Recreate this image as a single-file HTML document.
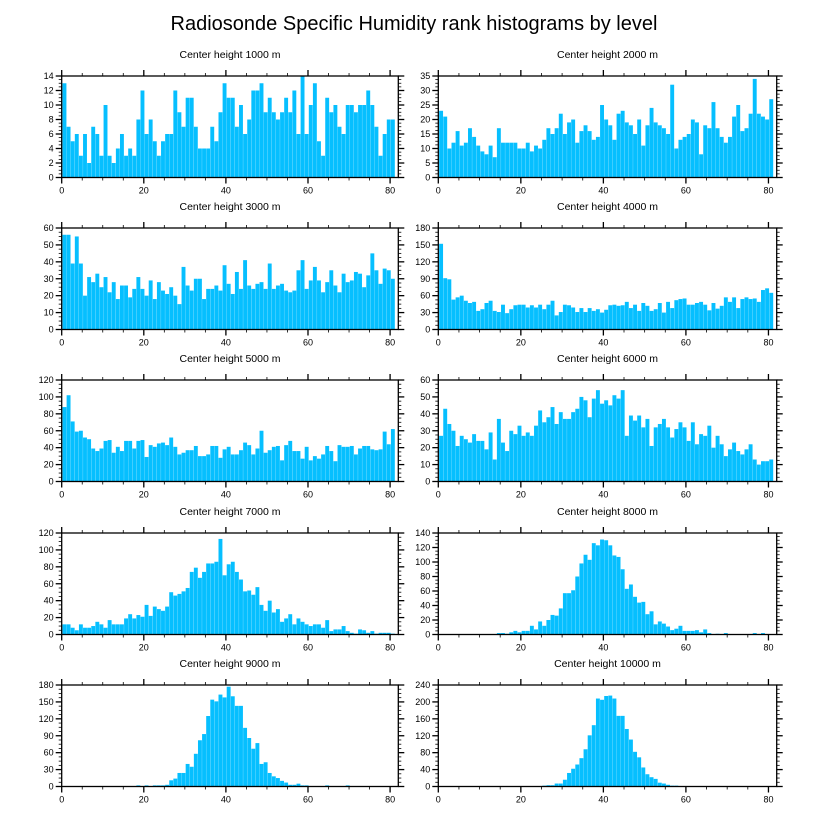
<!DOCTYPE html>
<html><head><meta charset="utf-8"><style>
html,body{margin:0;padding:0;background:#fff;}
svg{display:block;font-family:"Liberation Sans",sans-serif;}
</style></head><body>
<svg id="chart" width="816" height="824" viewBox="0 0 816 824" xmlns="http://www.w3.org/2000/svg">
<text x="414" y="30" text-anchor="middle" font-size="20">Radiosonde Specific Humidity rank histograms by level</text>
</svg>
<script>
const titles = ["Center height 1000 m","Center height 2000 m","Center height 3000 m","Center height 4000 m","Center height 5000 m","Center height 6000 m","Center height 7000 m","Center height 8000 m","Center height 9000 m","Center height 10000 m"];
const yMax = [14,35,60,180,120,60,120,140,180,240];
const yStep = [2,5,10,30,20,10,20,20,30,40];
const xTicks = [0,20,40,60,80];
const h1000 = [13,7,5,6,3,6,2,7,6,3,10,3,2,4,6,3,4,3,8,12,6,8,5,3,5,6,6,12,9,7,11,11,7,4,4,4,7,5,9,13,11,11,7,10,6,8,12,12,13,9,11,9,8,9,11,9,12,6,14,6,10,13,5,3,11,9,10,7,6,10,10,9,10,10,12,10,7,3,6,8,8];
const h2000 = [23,21,10,12,16,11,12,17,14,11,9,8,11,7,17,12,12,12,12,10,10,12,9,11,10,13,17,15,17,22,15,19,20,12,16,18,16,13,14,25,20,18,13,22,23,19,18,15,20,11,18,24,19,18,17,15,32,10,13,14,15,20,19,8,18,17,26,17,14,12,14,21,25,16,17,22,34,22,21,20,27];
const h3000 = [56,56,39,55,39,20,31,28,33,25,31,22,28,18,26,26,19,24,31,24,20,29,18,28,23,21,25,20,15,37,26,23,30,30,18,24,24,26,23,38,27,21,34,24,41,26,24,27,28,24,39,24,26,27,23,22,23,35,41,24,29,37,29,22,28,35,26,22,33,28,29,34,33,25,32,45,35,27,36,35,30];
const h4000 = [152,91,89,53,57,60,51,47,49,33,36,47,51,33,31,44,29,36,43,44,44,39,43,39,44,36,44,51,25,31,44,43,39,31,38,31,38,33,36,30,35,43,44,42,43,49,38,44,33,47,42,33,36,47,30,49,38,52,54,55,44,44,47,49,44,34,47,37,42,57,49,57,38,54,57,54,55,49,70,73,65];
const h5000 = [88,102,71,59,60,52,50,39,36,39,48,49,34,41,36,48,48,39,48,49,29,43,41,45,46,43,52,41,32,34,37,37,42,30,30,32,42,42,28,38,41,32,32,37,46,43,32,39,60,34,37,41,42,25,43,48,36,36,27,41,25,30,27,32,42,36,24,43,41,41,42,32,39,42,42,38,37,38,59,44,62];
const h6000 = [27,43,34,30,21,27,25,23,28,24,24,19,29,13,37,23,18,30,28,33,27,29,27,33,42,35,38,44,34,41,37,37,41,43,50,48,38,49,54,46,48,45,51,49,54,27,39,36,39,32,37,21,32,34,37,32,26,31,35,32,24,35,22,28,27,33,20,27,22,15,19,23,18,16,19,22,13,10,12,12,13];
const h7000 = [12,12,8,5,12,8,8,10,15,12,8,17,12,12,12,19,24,19,23,21,35,22,33,30,28,33,50,46,48,51,55,74,79,67,74,84,84,86,113,70,83,86,74,65,51,52,47,56,35,28,40,26,30,15,19,24,12,19,15,12,10,12,12,8,17,4,6,6,10,4,2,1,6,5,2,4,1,2,2,2,1];
const h8000 = [0,0,0,0,0,0,0,0,0,0,0,0,0,0,2,2,1,3,5,3,5,5,12,7,18,12,20,27,26,36,57,57,61,80,98,110,103,126,123,131,130,123,109,107,90,63,69,52,44,45,28,32,14,18,15,11,6,8,12,5,5,5,6,3,7,2,0,1,0,2,0,0,0,0,0,0,2,0,2,0,0];
const h9000 = [0,0,0,0,0,0,0,0,0,0,0,0,0,0,0,0,0,0,2,0,2,0,2,2,2,3,11,14,24,24,40,35,58,82,93,125,154,151,163,158,177,160,143,143,104,86,67,77,40,43,24,18,15,10,7,3,3,5,2,2,0,0,0,0,2,0,0,0,0,2,0,0,0,0,0,0,0,0,0,0,0];
const h10000 = [0,0,0,0,0,0,0,0,0,0,0,0,0,0,0,0,0,0,0,0,0,0,0,0,0,2,3,3,7,7,16,32,42,52,67,88,121,145,208,205,214,215,208,167,167,136,111,82,69,45,29,22,18,9,7,4,2,2,1,1,1,0,0,0,0,0,0,0,0,0,0,0,0,0,0,0,0,0,0,0,0];
const series = [h1000,h2000,h3000,h4000,h5000,h6000,h7000,h8000,h9000,h10000];

const NS="http://www.w3.org/2000/svg";
const svg=document.getElementById('chart');
function mk(tag,attrs,parent){const e=document.createElementNS(NS,tag);for(const k in attrs)e.setAttribute(k,attrs[k]);(parent||svg).appendChild(e);return e;}
const colX=[61.7,438.3], colW=[336.6,338.4], rowTop=[76,228,380,533,685], H=101.5, XMAX=82;
for(let p=0;p<10;p++){
  const col=p%2,row=Math.floor(p/2);
  const L=colX[col],T=rowTop[row],W=colW[col],B=T+H;
  const xs=v=>L+v*W/XMAX, ys=v=>B-v*H/yMax[p];
  const g=mk('g',{});
  
  
  const t=mk('text',{x:L+W/2,y:T-18,'text-anchor':'middle','font-size':'10.5'},g);
  t.textContent=titles[p];
  
  
  series[p].forEach((v,i)=>{
    if(v<=0)return;
    const r=mk('rect',{x:xs(i+0.2),y:ys(v),width:(W/XMAX)*0.95,height:B-ys(v),fill:'#06bfff'},g);
    
    
  });
  const fr=mk('rect',{x:L,y:T,width:W,height:H,fill:'none',stroke:'#000','stroke-width':1.3},g);
  
  
  // x ticks
  for(let v=0;v<=XMAX;v+=5){
    const major=v%20===0,len=major?6:3,x=xs(v);
    mk('line',{x1:x,x2:x,y1:B,y2:B+len,stroke:'#000','stroke-width':major?1.3:0.8},g);
    mk('line',{x1:x,x2:x,y1:T,y2:T-len,stroke:'#000','stroke-width':major?1.3:0.8},g);
  }
  xTicks.forEach(v=>{
    const tl=mk('text',{x:xs(v),y:B+16,'text-anchor':'middle','font-size':'9'},g);
    tl.textContent=v;
    
    
  });
  // y ticks
  const minor=yStep[p]/4;
  for(let k=0;k<=yMax[p]/minor+0.001;k++){
    const v=k*minor,major=k%4===0,len=major?6:3,y=ys(v);
    mk('line',{x1:L,x2:L-len,y1:y,y2:y,stroke:'#000','stroke-width':major?1.3:0.8},g);
    mk('line',{x1:L+W,x2:L+W+len,y1:y,y2:y,stroke:'#000','stroke-width':major?1.3:0.8},g);
  }
  for(let v=0;v<=yMax[p];v+=yStep[p]){
    const yl=mk('text',{x:L-8,y:ys(v)+3,'text-anchor':'end','font-size':'9'},g);
    yl.textContent=v;
    
    
  }
}
</script>
</body></html>
